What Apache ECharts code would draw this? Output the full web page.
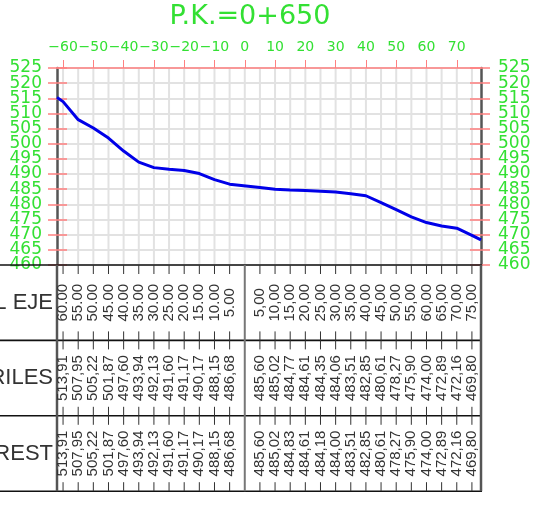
<!DOCTYPE html>
<html>
<head>
<meta charset="utf-8">
<script src="https://cdn.jsdelivr.net/npm/echarts@6/dist/echarts.min.js"></script>
<style>
  html, body { margin: 0; padding: 0; background: #fff; }
  #chart { width: 540px; height: 509px; }
</style>
</head>
<body>
<div id="chart"></div>
<script>
// Cross-section P.K. 0+650: ground profile and its data band.
const sectionTitle = 'P.K.=0+650';
const xTickLabels = [-60, -50, -40, -30, -20, -10, 0, 10, 20, 30, 40, 50, 60, 70];
const yMin = 460, yMax = 525, yStep = 5;
const xMin = -62, xMax = 78;

// Offsets from the axis (left side drawn as negative x)
const leftDist = [60, 55, 50, 45, 40, 35, 30, 25, 20, 15, 10, 5];
const rightDist = [5, 10, 15, 20, 25, 30, 35, 40, 45, 50, 55, 60, 65, 70, 75];

// Elevations, "RILES" row
const leftRiles = [513.91, 507.95, 505.22, 501.87, 497.60, 493.94, 492.13, 491.60, 491.17, 490.17, 488.15, 486.68];
const rightRiles = [485.60, 485.02, 484.77, 484.61, 484.35, 484.06, 483.51, 482.85, 480.61, 478.27, 475.90, 474.00, 472.89, 472.16, 469.80];

// Elevations, "REST" row
const leftRest = [513.91, 507.95, 505.22, 501.87, 497.60, 493.94, 492.13, 491.60, 491.17, 490.17, 488.15, 486.68];
const rightRest = [485.60, 485.02, 484.83, 484.61, 484.18, 484.00, 483.51, 482.85, 480.61, 478.27, 475.90, 474.00, 472.89, 472.16, 469.80];

// Profile ends beyond the tabulated offsets
const profileStart = [-62, 515.3];
const profileEnd = [78, 468.3];

const rowTitles = ['DISTANCIAS AL EJE', 'COTA CARRILES', 'REST'];

// ---- derived series data ----
const profile = [profileStart]
  .concat(leftDist.map((d, i) => [-d, leftRiles[i]]))
  .concat(rightDist.map((d, i) => [d, rightRiles[i]]))
  .concat([profileEnd]);

const gridCols = leftDist.map(d => [-d]).concat([[0]]).concat(rightDist.map(d => [d]));

const comma = v => v.toFixed(2).replace('.', ',');
const ejeRow = leftDist.map(d => ({ value: [-d, yMin], text: d.toFixed(2) }))
  .concat(rightDist.map(d => ({ value: [d, yMin], text: comma(d) })));
const rilesRow = leftDist.map((d, i) => ({ value: [-d, leftRiles[i]], text: comma(leftRiles[i]) }))
  .concat(rightDist.map((d, i) => ({ value: [d, rightRiles[i]], text: comma(rightRiles[i]) })));
const restRow = leftDist.map((d, i) => ({ value: [-d, leftRest[i]], text: comma(leftRest[i]) }))
  .concat(rightDist.map((d, i) => ({ value: [d, rightRest[i]], text: comma(rightRest[i]) })));

// ---- styling ----
const GREEN = '#33e033';
const RED = '#ff8080';
const GRID_GRAY = '#e2e2e2';
const FRAME = '#555';
const INK = '#333';
const ROW_H = 75.4;

function bandTop(api) { return api.coord([0, yMin])[1]; }

function rowRenderer(rowIndex, rows) {
  return function (params, api) {
    const x = api.coord([api.value(0), yMin])[0];
    const top = bandTop(api) + rowIndex * ROW_H;
    const item = rows[params.dataIndex];
    return {
      type: 'group',
      children: [
        { type: 'line', shape: { x1: x, y1: top, x2: x, y2: top + 9 }, style: { stroke: INK, lineWidth: 1 } },
        { type: 'line', shape: { x1: x, y1: top + ROW_H - 9, x2: x, y2: top + ROW_H }, style: { stroke: INK, lineWidth: 1 } },
        {
          type: 'text', x: x, y: top + ROW_H / 2, rotation: Math.PI / 2,
          style: { text: item.text, fill: INK, font: '15px "Liberation Sans"', align: 'center', verticalAlign: 'middle' }
        }
      ]
    };
  };
}

function renderFrame(params, api) {
  const cs = params.coordSys;
  const left = cs.x, right = cs.x + cs.width;
  const top = bandTop(api);
  const x0 = api.coord([0, yMin])[0];
  const children = [];
  for (let i = 0; i <= 3; i++) {
    const y = top + i * ROW_H;
    children.push({ type: 'line', shape: { x1: 0, y1: y, x2: right + 1, y2: y }, style: { stroke: '#111', lineWidth: 1.6 } });
  }
  const bottom = top + 3 * ROW_H;
  [[left, FRAME, 2.5], [x0, '#777', 2], [right, FRAME, 2.5]].forEach(([x, c, w]) => {
    children.push({ type: 'line', shape: { x1: x, y1: top, x2: x, y2: bottom }, style: { stroke: c, lineWidth: w } });
  });
  rowTitles.forEach((t, i) => {
    children.push({
      type: 'text', x: left - 4, y: top + i * ROW_H + ROW_H / 2,
      style: { text: t, fill: INK, font: '22px "Liberation Sans"', align: 'right', verticalAlign: 'middle' }
    });
  });
  return { type: 'group', children };
}

function renderGridCol(params, api) {
  const x = api.coord([api.value(0), yMax])[0];
  const y1 = api.coord([0, yMax])[1];
  const y2 = api.coord([0, yMin])[1];
  return { type: 'line', shape: { x1: x, y1: y1, x2: x, y2: y2 }, style: { stroke: GRID_GRAY, lineWidth: 2 } };
}

// Elevation labels are split over two axes per side (tens / fives) so the
// tightly packed labels are never dropped by overlap handling.
const tens = v => (v % 10 === 0 ? String(v) : '');
const fives = v => (v % 10 !== 0 ? String(v) : '');

const yCommon = { type: 'value', min: yMin, max: yMax, interval: yStep, gridIndex: 0, z: 3 };
function yLabel(margin, fmt) {
  return {
    margin: margin, formatter: fmt, color: GREEN, fontSize: 17, fontFamily: 'DejaVu Sans',
    showMinLabel: true, showMaxLabel: true
  };
}

const option = {
  animation: false,
  backgroundColor: '#fff',
  title: {
    text: sectionTitle, left: 245, top: -2, textAlign: 'center',
    textStyle: { color: GREEN, fontSize: 27, fontWeight: 'normal', fontFamily: 'DejaVu Sans' }
  },
  grid: { left: 57, right: 59, top: 68, height: 197 },
  xAxis: {
    type: 'value', min: xMin, max: xMax, position: 'top', z: 3,
    axisLine: { show: true, onZero: false, lineStyle: { color: RED, width: 1.5 } },
    axisTick: { show: true, customValues: xTickLabels, length: 8, lineStyle: { color: RED, width: 1 } },
    axisLabel: {
      customValues: xTickLabels, margin: 14, color: GREEN, fontSize: 14, fontFamily: 'DejaVu Sans',
      formatter: v => String(v).replace('-', '\u2212')
    },
    splitLine: { show: false }
  },
  yAxis: [
    Object.assign({}, yCommon, {
      position: 'left',
      axisLine: { show: true, onZero: false, lineStyle: { color: FRAME, width: 2.5 } },
      axisTick: { show: true, length: 9, lineStyle: { color: RED, width: 1.5 } },
      axisLabel: yLabel(15, tens),
      splitLine: { show: true, lineStyle: { color: GRID_GRAY, width: 2 } }
    }),
    Object.assign({}, yCommon, {
      position: 'left',
      axisLine: { show: false, onZero: false },
      axisTick: { show: true, inside: true, length: 10, lineStyle: { color: RED, width: 1.5 } },
      axisLabel: yLabel(15, fives),
      splitLine: { show: false }
    }),
    Object.assign({}, yCommon, {
      position: 'right',
      axisLine: { show: true, onZero: false, lineStyle: { color: FRAME, width: 2.5 } },
      axisTick: { show: true, length: 9, lineStyle: { color: RED, width: 1.5 } },
      axisLabel: yLabel(17, tens),
      splitLine: { show: false }
    }),
    Object.assign({}, yCommon, {
      position: 'right',
      axisLine: { show: false, onZero: false },
      axisTick: { show: true, inside: true, length: 11, lineStyle: { color: RED, width: 1.5 } },
      axisLabel: yLabel(17, fives),
      splitLine: { show: false }
    })
  ],
  series: [
    { type: 'custom', name: 'gridCols', data: gridCols, renderItem: renderGridCol, silent: true, z: 1 },
    {
      type: 'line', name: 'perfil', data: profile, xAxisIndex: 0, yAxisIndex: 0,
      showSymbol: false, symbol: 'none', z: 10,
      lineStyle: { color: '#0000e8', width: 3 }
    },
    { type: 'custom', name: 'frame', data: [[0, yMin]], renderItem: renderFrame, silent: true, z: 5 },
    { type: 'custom', name: 'eje', data: ejeRow.map(r => r.value), renderItem: rowRenderer(0, ejeRow), silent: true, z: 6 },
    { type: 'custom', name: 'riles', data: rilesRow.map(r => r.value), renderItem: rowRenderer(1, rilesRow), silent: true, z: 6 },
    { type: 'custom', name: 'rest', data: restRow.map(r => r.value), renderItem: rowRenderer(2, restRow), silent: true, z: 6 }
  ]
};

const chart = echarts.init(document.getElementById('chart'), null, { renderer: 'canvas' });
chart.setOption(option);
</script>
</body>
</html>
